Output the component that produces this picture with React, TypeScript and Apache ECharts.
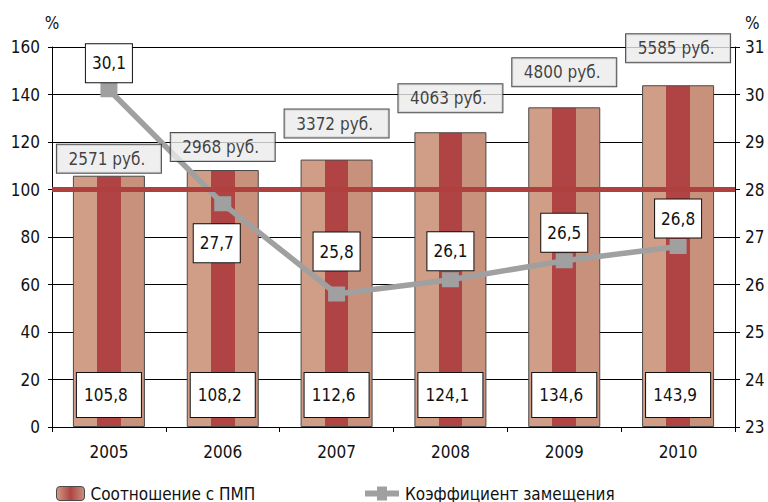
import React, { useEffect, useRef } from "react";
import * as echarts from "echarts";

const years = ["2005", "2006", "2007", "2008", "2009", "2010"];
const ratioToPmp = [105.8, 108.2, 112.6, 124.1, 134.6, 143.9];
const replacementRate = [30.1, 27.7, 25.8, 26.1, 26.5, 26.8];
const avgPensionRub = [2571, 2968, 3372, 4063, 4800, 5585];
const pmpLevel = 100;

// label placement styles (not data)
const rubleLabelLift = [3, 9, 22, 20, 21, 23];
const rateLabelPlacement: any[] = [
  { position: "top", distance: 0 },
  { position: "bottom", distance: 13, offset: [-6, 0] },
  { position: "top", distance: 16 },
  { position: "top", distance: 2 },
  { position: "top", distance: 1.5 },
  { position: "top", distance: 1.5 },
];

const FONT = "'Liberation Sans Narrow', 'Arial Narrow', 'DejaVu Sans Condensed', sans-serif";
const FS = 17;
const fmt = (v: number) => String(v).replace(".", ",");

export default function App() {
  const ref = useRef<HTMLDivElement>(null);
  useEffect(() => {
    if (!ref.current) return;
    const chart = echarts.init(ref.current, undefined, { renderer: "svg" });
    const L = "#d09d87";
    const D = "#b04444";
    const R = "#c8917c";
    const barGrad = new echarts.graphic.LinearGradient(0, 0, 1, 0, [
      { offset: 0, color: L },
      { offset: 0.333, color: L },
      { offset: 0.333, color: D },
      { offset: 0.667, color: D },
      { offset: 0.667, color: R },
      { offset: 1, color: R },
    ]);
    const legendGrad = new echarts.graphic.LinearGradient(0, 0, 1, 0, [
      { offset: 0, color: L },
      { offset: 0.5, color: D },
      { offset: 1, color: R },
    ]);
    const axisText = { fontFamily: FONT, fontSize: FS, color: "#111" };
    chart.setOption({
      animation: false,
      textStyle: { fontFamily: FONT, color: "#111" },
      grid: { left: 52, right: 33, top: 47, bottom: 75 },
      legend: [
        {
          data: [{ name: "Соотношение с ПМП", itemStyle: { color: legendGrad, borderColor: "#4a4a4a", borderWidth: 1 } }],
          left: 51,
          top: 480,
          itemWidth: 28,
          itemHeight: 14,
          itemGap: 10,
          textStyle: { ...axisText, padding: [0, 0, 0, 1] },
        },
        {
          data: [
            {
              name: "Коэффициент замещения",
              icon: "path://M0,4 H12 V0 H22 V4 H34 V10 H22 V14 H12 V10 H0 Z",
              itemStyle: { color: "#a0a0a0" },
            },
          ],
          left: 360,
          top: 480,
          itemWidth: 34,
          itemHeight: 14,
          textStyle: { ...axisText, padding: [0, 0, 0, 1] },
        },
      ],
      xAxis: {
        type: "category",
        data: years,
        boundaryGap: true,
        axisLine: { lineStyle: { color: "#000", width: 1 } },
        axisTick: { show: true, length: 5, lineStyle: { color: "#000" } },
        axisLabel: { ...axisText, margin: 16 },
      },
      yAxis: [
        {
          type: "value",
          min: 0,
          max: 160,
          interval: 20,
          name: "%",
          nameGap: 16,
          nameTextStyle: { ...axisText, align: "center", padding: [0, 0, 0, 0] },
          axisLine: { show: true, lineStyle: { color: "#000" } },
          axisTick: { show: true, length: 4, lineStyle: { color: "#000" } },
          axisLabel: { ...axisText, margin: 12 },
          splitLine: { show: true, lineStyle: { color: "#000", width: 1 } },
        },
        {
          type: "value",
          min: 23,
          max: 31,
          interval: 1,
          name: "%",
          nameGap: 16,
          nameTextStyle: { ...axisText, align: "left", padding: [0, 0, 0, 10] },
          axisLine: { show: true, lineStyle: { color: "#000" } },
          axisTick: { show: true, length: 5, lineStyle: { color: "#000" } },
          axisLabel: { ...axisText, margin: 10 },
          splitLine: { show: false },
        },
      ],
      series: [
        {
          name: "Соотношение с ПМП",
          type: "bar",
          data: ratioToPmp,
          barWidth: 72,
          z: 2,
          itemStyle: { color: barGrad, borderColor: "#4a4a4a", borderWidth: 1 },
          label: {
            show: true,
            position: "insideBottom",
            distance: 10,
            formatter: (p: any) => fmt(p.value),
            fontFamily: FONT,
            fontSize: FS,
            color: "#111",
            backgroundColor: "#fff",
            borderColor: "#111",
            borderWidth: 1,
            width: 54,
            height: 20,
            lineHeight: 20,
            align: "center",
            padding: [12, 8, 12, 2],
          },
          markLine: {
            silent: true,
            symbol: "none",
            label: { show: false },
            lineStyle: { color: "#b0403e", width: 5, type: "solid" },
            data: [{ yAxis: pmpLevel }],
          },
        },
        {
          name: "Коэффициент замещения",
          type: "line",
          yAxisIndex: 1,
          z: 4,
          data: replacementRate.map((v, i) => ({ value: v, label: rateLabelPlacement[i] })),
          symbol: "rect",
          symbolSize: [17, 15],
          lineStyle: { color: "#a0a0a0", width: 5.5 },
          itemStyle: { color: "#a0a0a0" },
          label: {
            show: true,
            formatter: (p: any) => fmt(p.value),
            fontFamily: FONT,
            fontSize: FS,
            color: "#111",
            backgroundColor: "#fff",
            borderColor: "#111",
            borderWidth: 1,
            width: 40,
            height: 20,
            lineHeight: 20,
            align: "center",
            padding: [9, 3],
          },
        },
        {
          name: "Средняя пенсия",
          type: "scatter",
          yAxisIndex: 0,
          z: 6,
          symbolSize: 0,
          silent: true,
          data: ratioToPmp.map((v, i) => ({
            value: v,
            label: { distance: rubleLabelLift[i] },
          })),
          label: {
            show: true,
            position: "top",
            formatter: (p: any) => `${avgPensionRub[p.dataIndex]} руб.`,
            fontFamily: FONT,
            fontSize: FS,
            color: "#111",
            backgroundColor: "#ebebeb",
            borderColor: "#222",
            borderWidth: 1,
            width: 88,
            height: 20,
            lineHeight: 20,
            align: "center",
            padding: [4, 10, 4, 6],
          },
        },
      ],
    });
    return () => chart.dispose();
  }, []);
  return (
    <div
      ref={ref}
      style={{ position: "fixed", left: 0, top: 0, width: 768, height: 502, background: "#fff" }}
    />
  );
}
